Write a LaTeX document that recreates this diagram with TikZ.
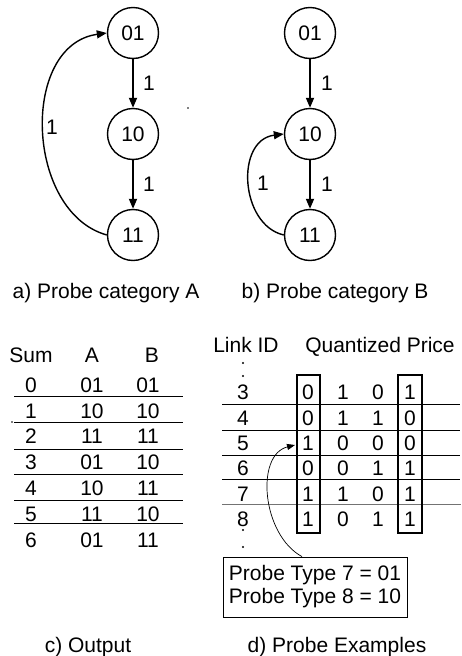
\documentclass[tikz,border=0pt]{standalone}
\usepackage{fontspec}
\setmainfont{Liberation Sans}
\usetikzlibrary{arrows.meta}
\begin{document}
\begin{tikzpicture}[x=1pt,y=-1pt,
  every node/.style={font=\fontsize{21}{23}\selectfont, inner sep=0pt},
  state/.style={draw, circle, line width=1.4pt, minimum size=51pt},
  arr/.style={line width=1.7pt, -{Triangle[length=10pt,width=8pt]}},
  backarr/.style={line width=1.4pt, -{Triangle[length=10pt,width=8pt]}},
  thinarr/.style={line width=0.7pt, -{Triangle[length=8pt,width=6pt]}},
  rule/.style={line width=0.8pt},
  colbox/.style={line width=1.6pt},
  caption/.style={anchor=base},
  speck/.style={fill=black, inner sep=0pt, minimum size=1.6pt, circle}
]
\useasboundingbox (0,0) rectangle (461,656);

% ---- a) category A state graph
\node[state] (a01) at (133,33) {01};
\node[state] (a10) at (133,134) {10};
\node[state] (a11) at (133,235) {11};
\draw[arr] (a01) -- node[xshift=16pt] {1} (a10);
\draw[arr] (a10) -- node[xshift=16pt] {1} (a11);
\draw[backarr] (a11.west) .. controls (25,212) and (20,45) .. (a01.west);
\node (la) at (52,127) {1};
\node[caption] (capa) at (106,298) {a) Probe category A};
\node[speck] (s1) at (188,108) {};

% ---- b) category B state graph
\node[state] (b01) at (310,33) {01};
\node[state] (b10) at (310,134) {10};
\node[state] (b11) at (310,235) {11};
\draw[arr] (b01) -- node[xshift=17pt] {1} (b10);
\draw[arr] (b10) -- node[xshift=17pt] {1} (b11);
\draw[backarr] (b11.west) .. controls (240,225) and (235,140) .. (b10.west);
\node (lb) at (263,183) {1};
\node[caption] (capb) at (335,298) {b) Probe category B};

% ---- c) output table
\node (hs) at (31,355) {Sum};
\node (ha) at (92,355) {A};
\node (hb) at (152,355) {B};
\foreach \s/\a/\b [count=\i from 0] in
  {0/01/01, 1/10/10, 2/11/11, 3/01/10, 4/10/11, 5/11/10, 6/01/11} {
  \node (cs\i) at (31,385+25.8*\i) {\s};
  \node (ca\i) at (92,385+25.8*\i) {\a};
  \node (cb\i) at (148,385+25.8*\i) {\b};
}
\foreach \y in {396,422,449,474,500,523}
  \draw[rule] (14,\y) -- (183,\y);
\node[speck] (s2) at (12,422) {};
\node[caption] (capc) at (88,652) {c) Output};

% ---- d) probe examples
\node[caption] (hid) at (246,352) {Link ID};
\node[caption] (hqp) at (380,352) {Quantized Price};
\foreach \y in {363,376,530,547}
  \fill (243,\y) circle (1.1pt);
\foreach \id/\p/\q/\r/\t [count=\i from 0] in
  {3/0/1/0/1, 4/0/1/1/0, 5/1/0/0/0, 6/0/0/1/1, 7/1/1/0/1, 8/1/0/1/1} {
  \node (id\id) at (243,392.5+25.4*\i) {\id};
  \node (p\id) at (308,392.5+25.4*\i) {\p};
  \node (q\id) at (343,392.5+25.4*\i) {\q};
  \node (r\id) at (378,392.5+25.4*\i) {\r};
  \node (t\id) at (410,392.5+25.4*\i) {\t};
}
\foreach \y in {404,430,455,479}
  \draw[rule] (222,\y) -- (460,\y);
\draw[rule, draw=black!55] (222,504) -- (461,504);
\draw[colbox] (297,375) rectangle (320,533);
\draw[colbox] (398,375) rectangle (422,533);
\node[draw, line width=0.8pt, minimum width=184pt, minimum height=60pt,
      align=left] (probe) at (315,587) {Probe Type 7 = 01\\Probe Type 8 = 10};
\coordinate (tip) at (295,445);
\draw[thinarr] ([xshift=-13pt]probe.north) .. controls (262,535) and (255,455) .. (tip);
\node[caption] (capd) at (337,652) {d) Probe Examples};
\end{tikzpicture}
\end{document}
